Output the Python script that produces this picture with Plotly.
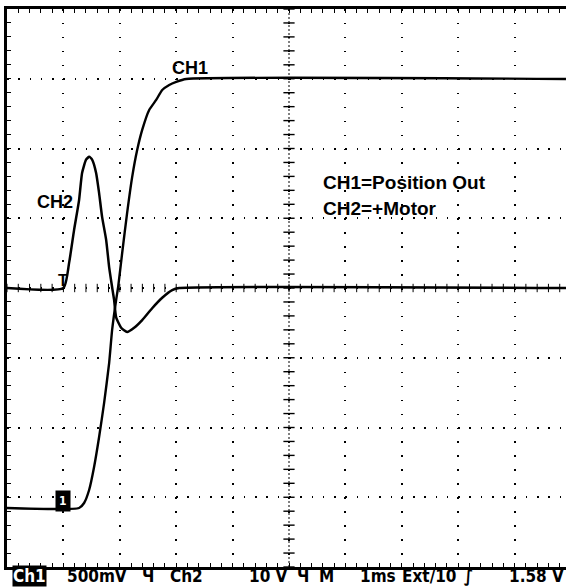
import plotly.graph_objects as go

# ---------------- data (time in ms, volts) ----------------
ch1_t = [-1.0, 0.278, 0.367, 0.456, 0.544, 0.633, 0.722, 0.811, 0.864, 0.935, 0.971,
         1.042, 1.130, 1.219, 1.308, 1.397, 1.521, 1.645, 1.752, 1.876, 2.000, 2.178, 8.911]
ch1_v = [-0.052, -0.052, -0.016, 0.077, 0.242, 0.457, 0.701, 0.987, 1.224, 1.439, 1.532,
         1.776, 2.063, 2.320, 2.514, 2.658, 2.801, 2.873, 2.944, 2.980, 3.002, 3.023, 3.023]

ch2_t = [-1.0, 0.0, 0.101, 0.189, 0.278, 0.331, 0.402, 0.456, 0.509, 0.580, 0.633, 0.686,
         0.758, 0.811, 0.864, 0.899, 0.935, 1.024, 1.130, 1.254, 1.397, 1.574, 1.752,
         1.929, 2.053, 8.911]
ch2_v = [0.0, 0.0, 3.6, 8.3, 12.6, 16.5, 18.4, 18.8, 18.4, 16.5, 13.6, 10.2,
         6.9, 3.0, 0.1, -1.7, -4.2, -5.7, -6.3, -5.7, -4.6, -2.9, -1.4,
         -0.3, 0.0, 0.0]

ch1_scale = 0.5      # V/div
ch2_scale = 10.0     # V/div
ch1_offset_div = 3.05
time_div = 1.0       # ms/div
status_items = ["500mV", "\u0427", "Ch2", "10 V", "\u0427", "M", "1ms", "Ext/10", "\u222b"]
status_left_px = [65, 140, 168, 247, 295, 317, 358, 400, 462]
status_right = "1.58 V"

# ---------------- layout geometry ----------------
W, H = 566, 587
ML, MR, MT, MB = 7, 0, 9, 20
PW, PH = W - ML - MR, H - MT - MB
DIVX = 56.4
x_range = [-1.0, -1.0 + PW / DIVX * time_div]
y2_range = [-4 * ch2_scale, 4 * ch2_scale]
y1_range = [(-4 + ch1_offset_div) * ch1_scale, (4 + ch1_offset_div) * ch1_scale]


def px(xp):
    return (xp - ML) / PW


def py(yp):
    return (H - MB - yp) / PH


fig = go.Figure()

# center graticule cross ticks
center_t = x_range[0] + 5 * time_div
ct_y = [-4 * ch2_scale + k * ch2_scale / 5 for k in range(41)]
fig.add_trace(go.Scatter(x=[center_t] * len(ct_y), y=ct_y, mode="markers",
                         marker=dict(symbol="line-ew", size=8, line=dict(width=1.4, color="black")),
                         hoverinfo="skip", yaxis="y"))
nx = int(round((x_range[1] - x_range[0]) / (time_div / 5))) + 1
ct_x = [x_range[0] + k * time_div / 5 for k in range(nx)]
fig.add_trace(go.Scatter(x=ct_x, y=[0] * len(ct_x), mode="markers",
                         marker=dict(symbol="line-ns", size=6, line=dict(width=1.0, color="black")),
                         hoverinfo="skip", yaxis="y"))

fig.add_shape(type="line", xref="x", yref="paper", x0=center_t, x1=center_t, y0=0, y1=1,
              line=dict(color="black", width=1, dash="2px,2px"))

# traces
fig.add_trace(go.Scatter(x=ch2_t, y=ch2_v, mode="lines", yaxis="y",
                         line=dict(color="black", width=2.5, shape="spline", smoothing=0.5)))
fig.add_trace(go.Scatter(x=ch1_t, y=ch1_v, mode="lines", yaxis="y2",
                         line=dict(color="black", width=2.4, shape="spline", smoothing=0.5)))

lbl_font = dict(family="Liberation Sans, Arial, sans-serif", size=18, color="black")
ann = []
ann.append(dict(text="<b>CH1</b>", x=px(190), y=py(68), xref="paper", yref="paper",
                xanchor="center", yanchor="middle", showarrow=False, font=lbl_font))
ann.append(dict(text="<b>CH2</b>", x=px(55), y=py(202), xref="paper", yref="paper",
                xanchor="center", yanchor="middle", showarrow=False, font=lbl_font))
txt_font = dict(family="Liberation Sans, Arial, sans-serif", size=19, color="black")
ann.append(dict(text="<b>CH1=Position Out</b>", x=px(321), y=py(183), xref="paper", yref="paper",
                xanchor="left", yanchor="middle", showarrow=False, font=txt_font))
ann.append(dict(text="<b>CH2=+Motor</b>", x=px(321), y=py(208), xref="paper", yref="paper",
                xanchor="left", yanchor="middle", showarrow=False, font=txt_font))

# trigger marker and ground marker
ann.append(dict(text="<b>T</b>", x=0, y=0, xref="x", yref="y", xanchor="center", yanchor="bottom",
                yshift=-3, showarrow=False,
                font=dict(family="Liberation Sans", size=16, color="black")))
ann.append(dict(text="<b>1</b>", x=0, y=0, xref="x", yref="y2", xanchor="center", yanchor="middle",
                showarrow=False, bgcolor="black", borderpad=3,
                font=dict(family="DejaVu Sans Condensed", size=12, color="white")))

# status bar
st_font = dict(family="DejaVu Sans Condensed, Liberation Sans Narrow, sans-serif", size=17, color="black")
ST_Y = 576
ann.append(dict(text="<b>Ch1</b>", x=px(12), y=py(ST_Y), xref="paper", yref="paper",
                xanchor="left", yanchor="middle", showarrow=False, bgcolor="black", borderpad=0,
                font=dict(family=st_font["family"], size=17, color="white")))
for s, lp in zip(status_items, status_left_px):
    ann.append(dict(text="<b>" + s + "</b>", x=px(lp), y=py(ST_Y), xref="paper", yref="paper",
                    xanchor="left", yanchor="middle", showarrow=False, font=st_font))
ann.append(dict(text="<b>" + status_right + "</b>", x=px(566), y=py(ST_Y), xref="paper", yref="paper",
                xanchor="right", yanchor="middle", showarrow=False, font=st_font))

fig.update_layout(
    width=W, height=H,
    margin=dict(l=ML, r=MR, t=MT, b=MB),
    paper_bgcolor="white", plot_bgcolor="white",
    showlegend=False,
    annotations=ann,
    xaxis=dict(range=x_range, dtick=time_div, tick0=-1, showticklabels=False,
               showgrid=True, gridcolor="black", gridwidth=1.5, griddash="1.5px,12.45px",
               zeroline=False, showline=True, linecolor="black", linewidth=2.5, mirror="allticks",
               ticks="inside", ticklen=4, tickcolor="black", tickwidth=1.2,
               minor=dict(dtick=time_div / 5, tick0=-1, ticks="inside", ticklen=3,
                          tickcolor="black", tickwidth=1.2, showgrid=False)),
    yaxis=dict(range=y2_range, dtick=ch2_scale, tick0=0, showticklabels=False,
               showgrid=True, gridcolor="black", gridwidth=1.5, griddash="1.5px,9.78px",
               zeroline=False, showline=True, linecolor="black", linewidth=3, mirror=False,
               ticks="inside", ticklen=4, tickcolor="black", tickwidth=1.2,
               minor=dict(dtick=ch2_scale / 5, tick0=0, ticks="inside", ticklen=4,
                          tickcolor="black", tickwidth=1.2, showgrid=False)),
    yaxis2=dict(range=y1_range, overlaying="y", visible=False, showgrid=False, zeroline=False),
)

fig.write_html("out.html", config={"displayModeBar": False},
               post_script="document.body.style.margin='0';document.body.style.overflow='hidden';")
